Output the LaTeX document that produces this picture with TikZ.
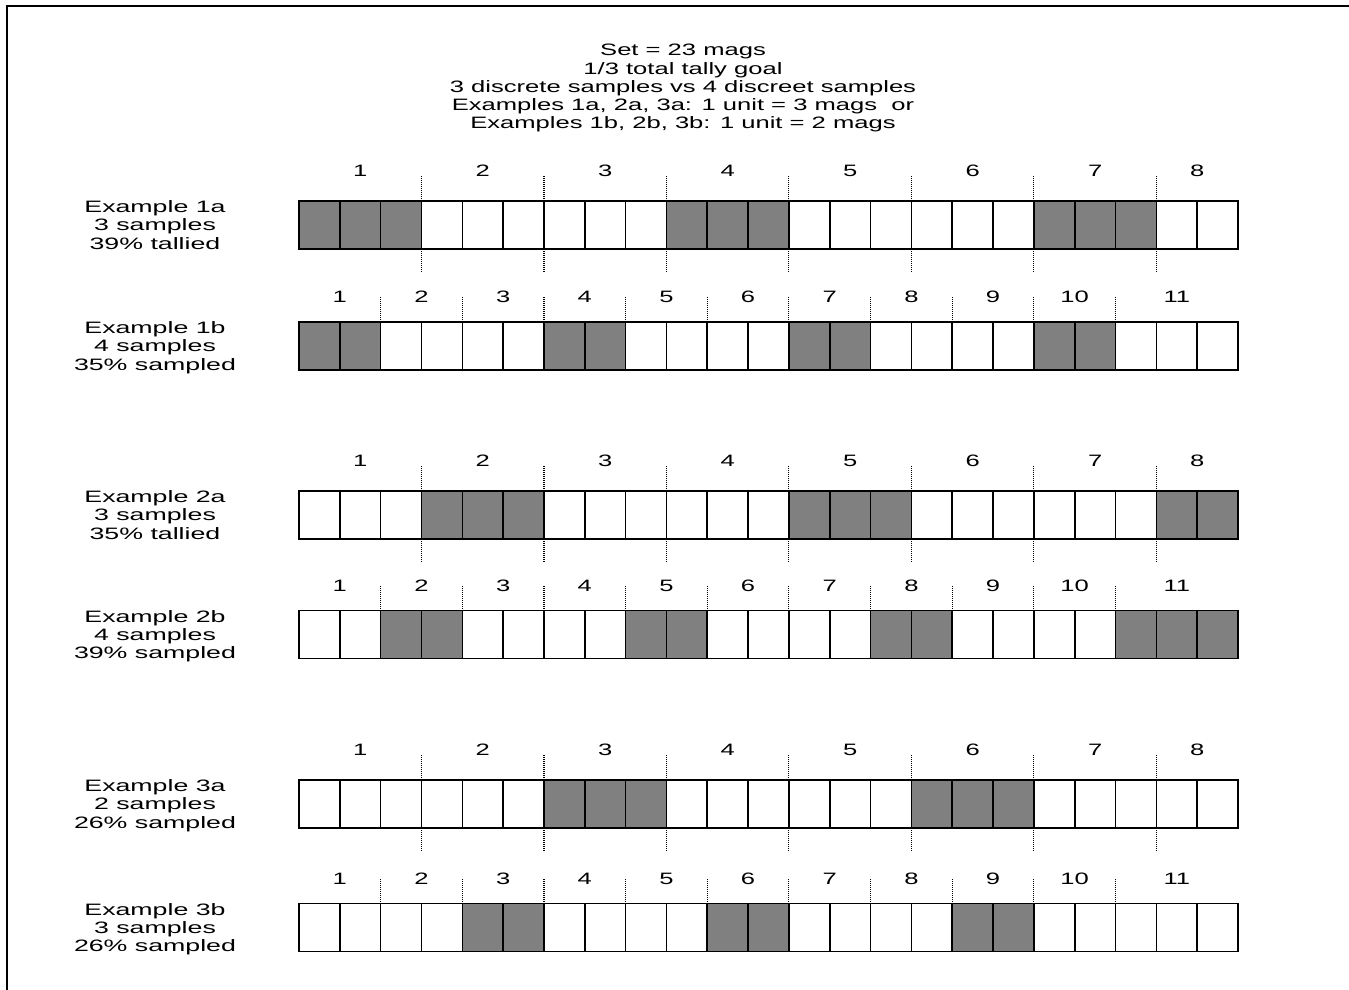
\documentclass[tikz,border=0pt]{standalone}
\usepackage{fontspec}
\setmainfont{Liberation Sans}[FakeStretch=1.55]
\newfontfamily\labelfont{Liberation Sans}[FakeStretch=1.62]
\definecolor{shade}{HTML}{808080}
\tikzset{
  cellbox/.style={draw=black, line width=1.6, fill=white, minimum width=40.8261pt, minimum height=48pt, inner sep=0pt, outer sep=0pt},
  shadefill/.style={draw=black, line width=1.6, fill=shade},
  sepline/.style={line width=1.1, dash pattern=on 1pt off 1pt},
  num/.style={anchor=base, inner sep=0pt, font=\fontsize{16.5}{18.4}\selectfont},
  ttl/.style={align=center, inner sep=0pt, text depth=0pt, font=\fontsize{16.5}{18.3}\selectfont},
  lab/.style={align=center, inner sep=0pt, text depth=0pt, font=\labelfont\fontsize{16.5}{18.4}\selectfont},
  frame/.style={line width=2.2},
}
\newcommand\cellrow[3]{%
  \foreach \i in {1,...,23}{\node[cellbox] (#1-\i) at ({299+(\i-0.5)*40.8261},{#2+24}) {};}
  \foreach \i in {#3}{\path[shadefill] (#1-\i.south west) rectangle (#1-\i.north east);}
}
\newcommand\asep[1]{%
  \foreach \k in {3,6,...,21}{%
    \draw[sepline] (#1-\k.north east) -- ++(0,-25);
    \draw[sepline] (#1-\k.south east) -- ++(0,24);
  }}
\newcommand\bsep[1]{%
  \foreach \k in {2,4,...,20}{\draw[sepline] (#1-\k.north east) -- ++(0,-25);}}
\newcommand\anums[2]{%
  \foreach \g in {1,...,7}{\node[num] (#1-n\g) at ({299+(3*\g-1.5)*40.8261},{#2-24.5}) {\g};}
  \node[num] (#1-n8) at ({299+22*40.8261},{#2-24.5}) {8};}
\newcommand\bnums[2]{%
  \foreach \g in {1,...,10}{\node[num] (#1-n\g) at ({299+(2*\g-1)*40.8261},{#2-19.5}) {\g};}
  \node[num] (#1-n11) at ({299+21.5*40.8261},{#2-19.5}) {11};}
\begin{document}
\begin{tikzpicture}[x=1pt,y=-1pt]
\useasboundingbox (0,0) rectangle (1349,989);
\fill[white] (0,0) rectangle (1349,989);
\draw[frame] (7,1000) -- (7,6) -- (1360,6);

\node[ttl, anchor=north] (title) at (683,44) {Set = 23 mags\\1/3 total tally goal\\3 discrete samples vs 4 discreet samples\\Examples 1a, 2a, 3a: 1 unit = 3 mags~ or\\Examples 1b, 2b, 3b: 1 unit = 2 mags};

% Example 1a
\cellrow{r1a}{201}{1,2,3,10,11,12,19,20,21}
\asep{r1a}
\anums{r1a}{201}
\node[lab] (l1a) at (155,225) {Example 1a\\3 samples\\39\% tallied};

% Example 1b
\cellrow{r1b}{322}{1,2,7,8,13,14,19,20}
\bsep{r1b}
\bnums{r1b}{322}
\node[lab] (l1b) at (155,346) {Example 1b\\4 samples\\35\% sampled};

% Example 2a
\cellrow{r2a}{491}{4,5,6,13,14,15,22,23}
\asep{r2a}
\anums{r2a}{491}
\node[lab] (l2a) at (155,515) {Example 2a\\3 samples\\35\% tallied};

% Example 2b
\cellrow{r2b}{610.5}{3,4,9,10,15,16,21,22,23}
\bsep{r2b}
\bnums{r2b}{610.5}
\node[lab] (l2b) at (155,634.5) {Example 2b\\4 samples\\39\% sampled};

% Example 3a
\cellrow{r3a}{780}{7,8,9,16,17,18}
\asep{r3a}
\anums{r3a}{780}
\node[lab] (l3a) at (155,804) {Example 3a\\2 samples\\26\% sampled};

% Example 3b
\cellrow{r3b}{903.5}{5,6,11,12,17,18}
\bsep{r3b}
\bnums{r3b}{903.5}
\node[lab] (l3b) at (155,927.5) {Example 3b\\3 samples\\26\% sampled};
\end{tikzpicture}
\end{document}
